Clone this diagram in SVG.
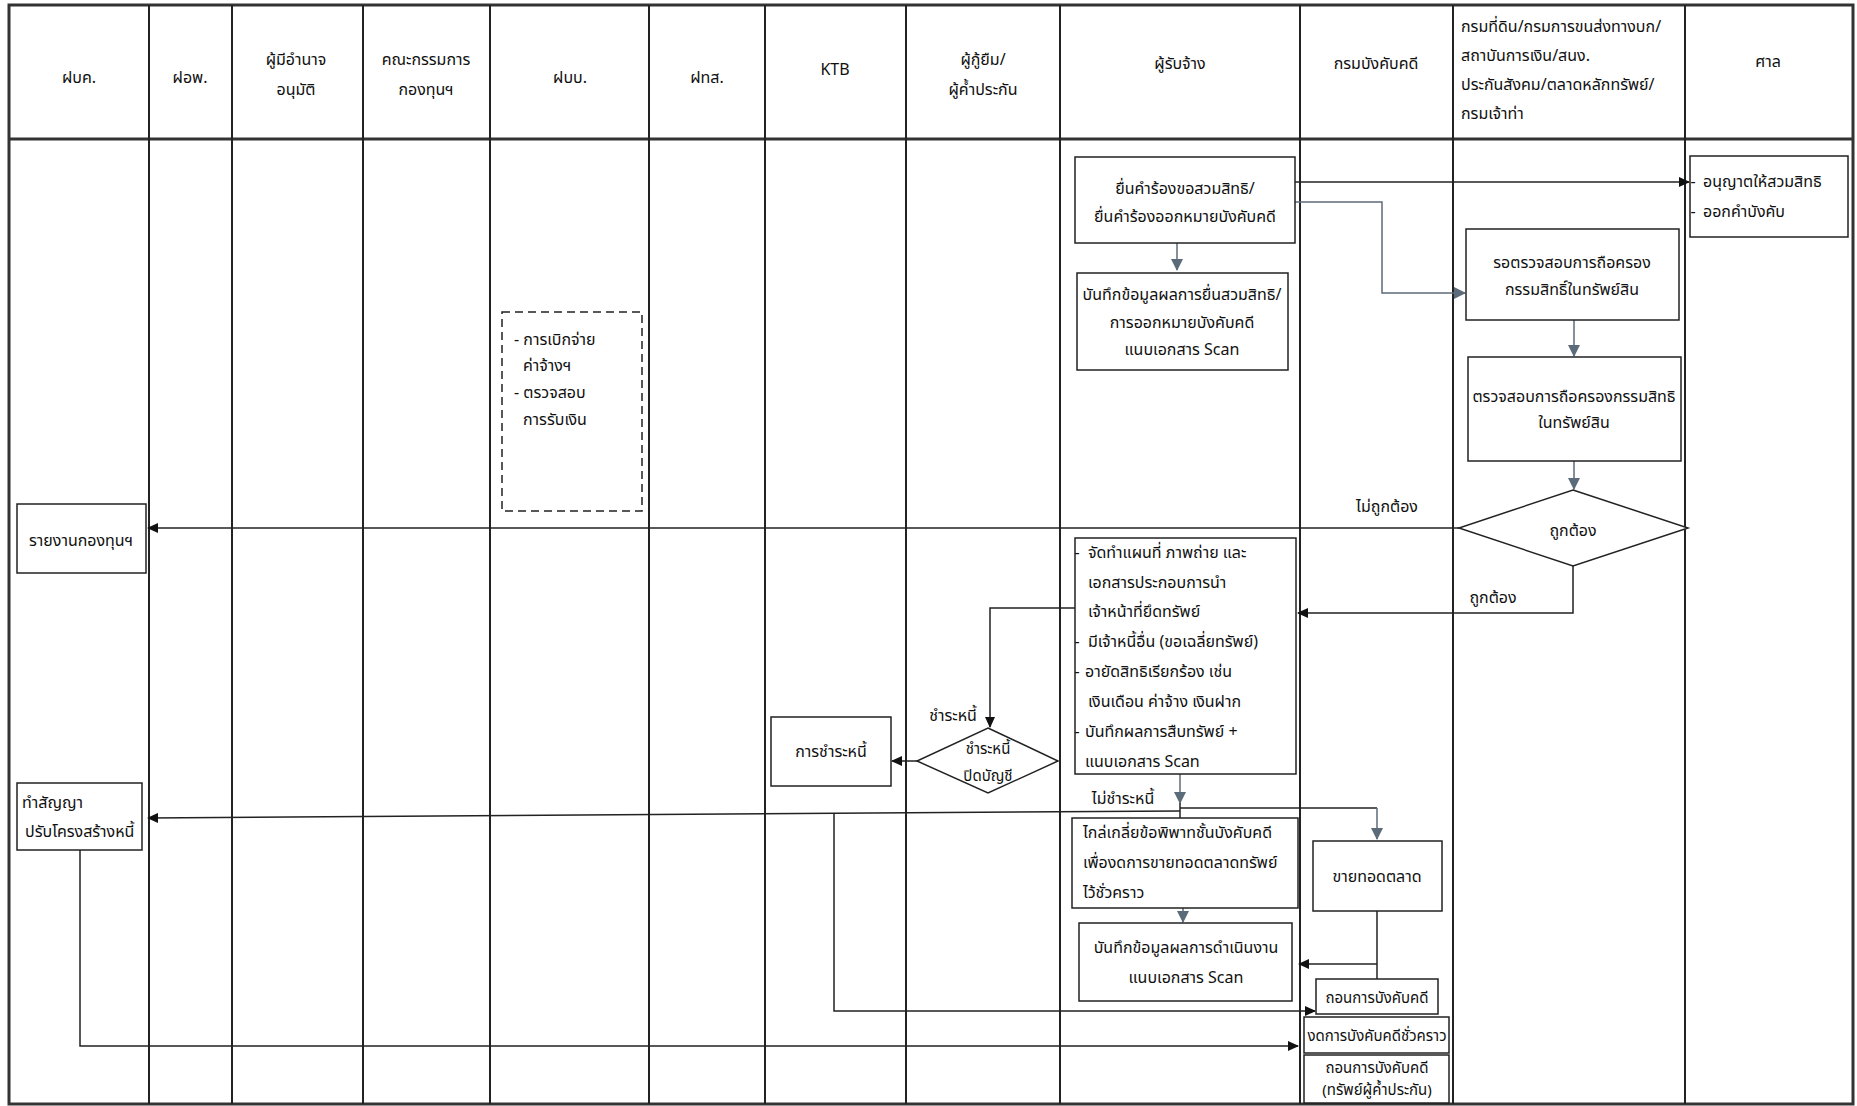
<svg xmlns="http://www.w3.org/2000/svg" width="1857" height="1106" viewBox="0 0 1857 1106">
<style>
text{font-family:"Noto Sans Thai","Noto Sans Thai UI","Leelawadee UI",Tahoma,"Noto Sans","DejaVu Sans",sans-serif;font-size:16px;fill:#111}
.c{text-anchor:middle;dominant-baseline:central}
.l{text-anchor:start;dominant-baseline:central}
.s{font-size:15px}
.lane{stroke:#222;stroke-width:2;fill:none}
.border{stroke:#333;stroke-width:3;fill:none}
.box{fill:#fff;stroke:#222;stroke-width:1.5}
.dash{fill:none;stroke:#222;stroke-width:1.5;stroke-dasharray:8 5}
.k{fill:none;stroke:#222;stroke-width:1.5}
.g{fill:none;stroke:#5c6b7a;stroke-width:1.5}
</style>
<defs>
<marker id="ak" markerWidth="11" markerHeight="10" refX="10" refY="5" orient="auto" markerUnits="userSpaceOnUse"><path d="M0,0 L11,5 L0,10 z" fill="#111"/></marker>
<marker id="ag" markerWidth="12" markerHeight="12" refX="11" refY="6" orient="auto" markerUnits="userSpaceOnUse"><path d="M0,0 L12,6 L0,12 z" fill="#5c6b7a"/></marker>
</defs>
<rect width="1857" height="1106" fill="#fff"/>

<g id="lanes">
<rect class="border" x="9" y="5" width="1844" height="1099"/>
<line class="border" x1="9" y1="139" x2="1853" y2="139"/>
<line class="lane" x1="149" y1="5" x2="149" y2="1104"/>
<line class="lane" x1="232" y1="5" x2="232" y2="1104"/>
<line class="lane" x1="363" y1="5" x2="363" y2="1104"/>
<line class="lane" x1="490" y1="5" x2="490" y2="1104"/>
<line class="lane" x1="649" y1="5" x2="649" y2="1104"/>
<line class="lane" x1="765" y1="5" x2="765" y2="1104"/>
<line class="lane" x1="906" y1="5" x2="906" y2="1104"/>
<line class="lane" x1="1060" y1="5" x2="1060" y2="1104"/>
<line class="lane" x1="1300" y1="5" x2="1300" y2="1104"/>
<line class="lane" x1="1453" y1="5" x2="1453" y2="1104"/>
<line class="lane" x1="1685" y1="5" x2="1685" y2="1104"/>
<text class="c" x="79" y="78">ฝบค.</text>
<text class="c" x="190" y="78">ฝอพ.</text>
<text class="c" x="296" y="60">ผู้มีอำนาจ</text>
<text class="c" x="296" y="90">อนุมัติ</text>
<text class="c" x="426" y="60">คณะกรรมการ</text>
<text class="c" x="426" y="90">กองทุนฯ</text>
<text class="c" x="570" y="78">ฝบบ.</text>
<text class="c" x="707" y="78">ฝทส.</text>
<text class="c" x="835" y="70">KTB</text>
<text class="c" x="983" y="60">ผู้กู้ยืม/</text>
<text class="c" x="983" y="90">ผู้ค้ำประกัน</text>
<text class="c" x="1180" y="64">ผู้รับจ้าง</text>
<text class="c" x="1376" y="64">กรมบังคับคดี</text>
<text class="l" x="1461" y="27">กรมที่ดิน/กรมการขนส่งทางบก/</text>
<text class="l" x="1461" y="56">สถาบันการเงิน/สนง.</text>
<text class="l" x="1461" y="85">ประกันสังคม/ตลาดหลักทรัพย์/</text>
<text class="l" x="1461" y="114">กรมเจ้าท่า</text>
<text class="c" x="1768" y="62">ศาล</text>
</g>

<g id="connectors">
<path class="k" d="M1295,182 H1689" marker-end="url(#ak)"/>
<path class="g" d="M1177,243 V270" marker-end="url(#ag)"/>
<path class="g" d="M1295,202 H1382 V293 H1465" marker-end="url(#ag)"/>
<path class="g" d="M1574,320 V356" marker-end="url(#ag)"/>
<path class="g" d="M1574,461 V489" marker-end="url(#ag)"/>
<path class="k" d="M1459,528 H148" marker-end="url(#ak)"/>
<path class="k" d="M1573,566 V613 H1298" marker-end="url(#ak)"/>
<path class="k" d="M1075,608 H990 V727" marker-end="url(#ak)"/>
<path class="k" d="M917,761 H892" marker-end="url(#ak)"/>
<path class="g" d="M1180,774 V803" marker-end="url(#ag)"/>
<path class="k" d="M1180,803 V818"/>
<path class="k" d="M1180,811 L148,818" marker-end="url(#ak)"/>
<path class="k" d="M1180,808 H1377"/>
<path class="g" d="M1377,808 V839" marker-end="url(#ag)"/>
<path class="g" d="M1183,908 V922" marker-end="url(#ag)"/>
<path class="k" d="M1377,911 V979"/>
<path class="k" d="M1377,964 H1299" marker-end="url(#ak)"/>
<path class="k" d="M834,814 V1011 H1315" marker-end="url(#ak)"/>
<path class="k" d="M80,850 V1046 H1298" marker-end="url(#ak)"/>
<text class="c" x="1387" y="507">ไม่ถูกต้อง</text>
<text class="c" x="1493" y="598">ถูกต้อง</text>
<text class="c" x="953" y="716">ชำระหนี้</text>
<text class="c" x="1123" y="799">ไม่ชำระหนี้</text>
</g>

<g id="n-file">
<rect class="box" x="1075" y="157" width="220" height="86"/>
<text class="c" x="1185" y="189">ยื่นคำร้องขอสวมสิทธิ/</text>
<text class="c" x="1185" y="217">ยื่นคำร้องออกหมายบังคับคดี</text>
</g>
<g id="n-record1">
<rect class="box" x="1077" y="273" width="211" height="97"/>
<text class="c" x="1182" y="295">บันทึกข้อมูลผลการยื่นสวมสิทธิ/</text>
<text class="c" x="1182" y="323">การออกหมายบังคับคดี</text>
<text class="c" x="1182" y="350">แนบเอกสาร Scan</text>
</g>
<g id="n-court">
<rect class="box" x="1690" y="156" width="158" height="81"/>
<text class="c" x="1693" y="182">-</text>
<text class="l" x="1703" y="182">อนุญาตให้สวมสิทธิ</text>
<text class="c" x="1693" y="212">-</text>
<text class="l" x="1703" y="212">ออกคำบังคับ</text>
</g>
<g id="n-wait">
<rect class="box" x="1466" y="229" width="213" height="91"/>
<text class="c" x="1572" y="263">รอตรวจสอบการถือครอง</text>
<text class="c" x="1572" y="290">กรรมสิทธิ์ในทรัพย์สิน</text>
</g>
<g id="n-check">
<rect class="box" x="1468" y="357" width="213" height="104"/>
<text class="c" x="1574" y="397">ตรวจสอบการถือครองกรรมสิทธิ</text>
<text class="c" x="1574" y="423">ในทรัพย์สิน</text>
</g>
<g id="n-ok">
<polygon class="box" points="1573,490 1688,528 1573,566 1459,528"/>
<text class="c" x="1573" y="531">ถูกต้อง</text>
</g>
<g id="n-report">
<rect class="box" x="17" y="504" width="129" height="69"/>
<text class="c" x="81" y="541">รายงานกองทุนฯ</text>
</g>
<g id="n-finance">
<rect class="dash" x="502" y="312" width="140" height="199"/>
<text class="l" x="514" y="340">- การเบิกจ่าย</text>
<text class="l" x="523" y="366">ค่าจ้างฯ</text>
<text class="l" x="514" y="393">- ตรวจสอบ</text>
<text class="l" x="523" y="420">การรับเงิน</text>
</g>
<g id="n-work">
<rect class="box" x="1075" y="538" width="221" height="236"/>
<text class="c" x="1077" y="553">-</text>
<text class="l" x="1088" y="553">จัดทำแผนที่ ภาพถ่าย และ</text>
<text class="l" x="1088" y="583">เอกสารประกอบการนำ</text>
<text class="l" x="1088" y="612">เจ้าหน้าที่ยึดทรัพย์</text>
<text class="c" x="1077" y="642">-</text>
<text class="l" x="1088" y="642">มีเจ้าหนี้อื่น (ขอเฉลี่ยทรัพย์)</text>
<text class="c" x="1077" y="672">-</text>
<text class="l" x="1085" y="672">อายัดสิทธิเรียกร้อง เช่น</text>
<text class="l" x="1088" y="702">เงินเดือน ค่าจ้าง เงินฝาก</text>
<text class="c" x="1077" y="732">-</text>
<text class="l" x="1085" y="732">บันทึกผลการสืบทรัพย์ +</text>
<text class="l" x="1085" y="762">แนบเอกสาร Scan</text>
</g>
<g id="n-pay">
<polygon class="box" points="988,728 1058,761 988,793 917,761"/>
<text class="c s" x="988" y="749">ชำระหนี้</text>
<text class="c s" x="988" y="776">ปิดบัญชี</text>
</g>
<g id="n-ktb">
<rect class="box" x="771" y="717" width="120" height="69"/>
<text class="c" x="831" y="752">การชำระหนี้</text>
</g>
<g id="n-contract">
<rect class="box" x="17" y="783" width="125" height="67"/>
<text class="l" x="22" y="803">ทำสัญญา</text>
<text class="l" x="25" y="832">ปรับโครงสร้างหนี้</text>
</g>
<g id="n-mediate">
<rect class="box" x="1072" y="818" width="226" height="90"/>
<text class="l" x="1083" y="833">ไกล่เกลี่ยข้อพิพาทชั้นบังคับคดี</text>
<text class="l" x="1083" y="863">เพื่องดการขายทอดตลาดทรัพย์</text>
<text class="l" x="1083" y="893">ไว้ชั่วคราว</text>
</g>
<g id="n-record2">
<rect class="box" x="1079" y="923" width="213" height="78"/>
<text class="c" x="1186" y="948">บันทึกข้อมูลผลการดำเนินงาน</text>
<text class="c" x="1186" y="978">แนบเอกสาร Scan</text>
</g>
<g id="n-auction">
<rect class="box" x="1313" y="841" width="129" height="70"/>
<text class="c" x="1377" y="877">ขายทอดตลาด</text>
</g>
<g id="n-withdraw">
<rect class="box" x="1316" y="979" width="122" height="35"/>
<text class="c s" x="1377" y="998">ถอนการบังคับคดี</text>
</g>
<g id="n-suspend">
<rect class="box" x="1304" y="1017" width="145" height="36"/>
<text class="c s" x="1377" y="1036">งดการบังคับคดีชั่วคราว</text>
</g>
<g id="n-withdraw2">
<rect class="box" x="1304" y="1055" width="145" height="48"/>
<text class="c s" x="1377" y="1068">ถอนการบังคับคดี</text>
<text class="c s" x="1377" y="1090">(ทรัพย์ผู้ค้ำประกัน)</text>
</g>
</svg>
